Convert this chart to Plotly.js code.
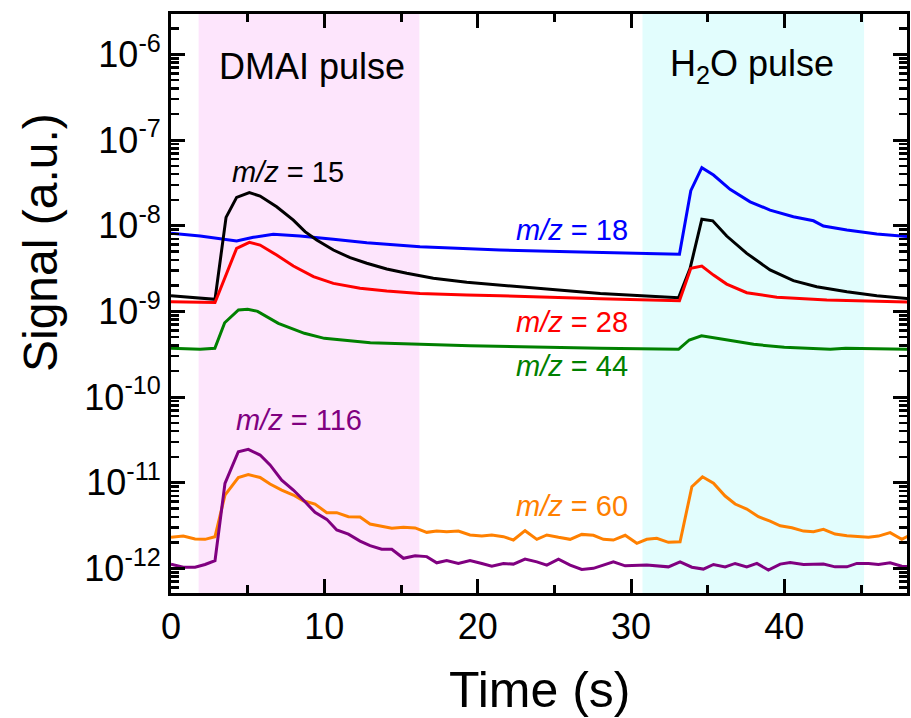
<!DOCTYPE html>
<html>
<head>
<meta charset="utf-8">
<script src="https://cdn.plot.ly/plotly-3.0.1.min.js"></script>
<style>html,body{margin:0;padding:0;background:#fff;}#chart{width:911px;height:718px;}</style>
</head>
<body>
<div id="chart"></div>
<script>
// ---- data ----
const t15 = [0, 2.87, 3.59, 4.28, 5.11, 5.81, 6.89, 7.98, 8.74, 9.5, 10.59, 11.68, 12.77, 14.07, 15.38, 17.11, 19.29, 21.46, 25, 28, 31.9, 33.1, 33.85, 34.62, 35.33, 36.24, 37.55, 39.07, 40.59, 42.11, 44.08, 46.03, 48.2];
const s15 = [1.52e-9, 1.38e-9, 1.25e-8, 2.14e-8, 2.43e-8, 2.22e-8, 1.66e-8, 1.16e-8, 8.51e-9, 6.80e-9, 5.20e-9, 4.23e-9, 3.64e-9, 3.12e-9, 2.78e-9, 2.43e-9, 2.18e-9, 2.03e-9, 1.82e-9, 1.62e-9, 1.48e-9, 1.44e-9, 3.15e-9, 1.19e-8, 1.14e-8, 7.57e-9, 4.75e-9, 3.04e-9, 2.28e-9, 1.94e-9, 1.69e-9, 1.52e-9, 1.40e-9];

const t18 = [0, 1.9, 4.28, 5.37, 6.67, 8.41, 10.59, 12.77, 16.24, 21.46, 26, 31.9, 33.16, 33.9, 34.62, 35.38, 36.46, 37.77, 39.07, 40.59, 41.9, 42.55, 44.08, 46.03, 48.2];
const s18 = [8.15e-9, 7.57e-9, 6.62e-9, 7.31e-9, 7.93e-9, 7.57e-9, 6.93e-9, 6.32e-9, 5.68e-9, 5.20e-9, 4.95e-9, 4.63e-9, 4.63e-9, 2.56e-8, 4.75e-8, 3.90e-8, 2.66e-8, 1.90e-8, 1.52e-8, 1.27e-8, 1.14e-8, 9.91e-9, 8.90e-9, 8.00e-9, 7.43e-9];

const t28 = [0, 2.87, 4.28, 5.11, 5.81, 6.89, 7.98, 9.29, 10.59, 12.33, 14.07, 16.24, 19.29, 21.46, 28, 31.9, 33.16, 33.9, 34.62, 35.38, 36.24, 37.55, 39.51, 42.77, 48.2];
const s28 = [1.29e-9, 1.27e-9, 5.44e-9, 6.39e-9, 5.94e-9, 4.54e-9, 3.38e-9, 2.54e-9, 2.12e-9, 1.86e-9, 1.73e-9, 1.62e-9, 1.55e-9, 1.52e-9, 1.40e-9, 1.36e-9, 1.33e-9, 3.18e-9, 3.38e-9, 2.65e-9, 2.08e-9, 1.65e-9, 1.46e-9, 1.36e-9, 1.28e-9];

const t44 = [0, 1.9, 2.86, 3.5, 4.4, 5.0, 5.65, 7.0, 8.7, 10, 13, 16.2, 19.5, 28, 33.1, 33.8, 34.6, 36, 38, 40, 43, 44, 48];
const s44 = [3.70e-10, 3.62e-10, 3.70e-10, 7.36e-10, 1.04e-9, 1.06e-9, 1.0e-9, 7.25e-10, 5.54e-10, 4.84e-10, 4.30e-10, 4.12e-10, 3.97e-10, 3.70e-10, 3.60e-10, 4.63e-10, 5.19e-10, 4.71e-10, 4.12e-10, 3.80e-10, 3.60e-10, 3.70e-10, 3.60e-10];

const tFirst = [0, 0.80, 1.57, 2.22, 2.87, 3.52, 4.39, 5.04, 5.81, 6.46, 7.22, 7.98, 8.63, 9.39, 10.16, 10.81, 11.57, 12.33, 12.98, 13.74, 14.40, 15.16, 15.92, 16.68, 17.33, 17.98, 18.74, 19.50, 20.27, 20.92, 21.68, 22.33, 23.09, 23.86];

const t116b = [24.51, 25.27, 26.03, 26.79, 27.55, 28.85, 29.62, 31.03, 32.44, 33.20, 33.97, 34.72, 35.38, 36.14, 36.79, 37.55, 38.21, 38.96, 39.73, 40.38, 41.25, 41.90, 42.55, 43.31, 44.08, 44.73, 45.49, 46.14, 46.9, 47.66, 48.2];
const s116a = [1.12e-12, 1.03e-12, 1.03e-12, 1.11e-12, 1.23e-12, 9.83e-12, 2.30e-11, 2.45e-11, 2.10e-11, 1.61e-11, 1.07e-11, 8.20e-12, 6.27e-12, 4.51e-12, 3.73e-12, 2.80e-12, 2.51e-12, 2.08e-12, 1.84e-12, 1.67e-12, 1.67e-12, 1.31e-12, 1.40e-12, 1.37e-12, 1.16e-12, 1.23e-12, 1.14e-12, 1.23e-12, 1.14e-12, 1.06e-12, 1.14e-12, 1.12e-12, 1.28e-12, 1.19e-12];
const s116b = [1.09e-12, 1.28e-12, 1.09e-12, 0.97e-12, 1.0e-12, 1.19e-12, 1.07e-12, 1.09e-12, 1.04e-12, 1.19e-12, 1.03e-12, 0.98e-12, 1.11e-12, 1.04e-12, 1.14e-12, 1.04e-12, 1.14e-12, 0.955e-12, 1.12e-12, 1.17e-12, 1.11e-12, 1.12e-12, 1.12e-12, 1.04e-12, 1.04e-12, 1.14e-12, 1.14e-12, 1.11e-12, 1.16e-12, 1.06e-12, 1.04e-12];

const t60b = [24.51, 25.27, 26.03, 26.79, 27.55, 28.2, 28.85, 29.62, 30.38, 31.03, 31.68, 32.44, 33.20, 33.97, 34.66, 35.38, 36.14, 36.79, 37.55, 38.31, 39.07, 39.73, 40.49, 41.25, 41.90, 42.55, 43.31, 44.08, 44.73, 45.49, 46.14, 46.9, 47.66, 48.2];
const s60a = [2.30e-12, 2.38e-12, 2.20e-12, 2.18e-12, 2.34e-12, 7.17e-12, 1.15e-11, 1.24e-11, 1.15e-11, 9.64e-12, 8.20e-12, 7.17e-12, 6.15e-12, 5.63e-12, 4.46e-12, 4.46e-12, 4.00e-12, 3.97e-12, 3.29e-12, 3.06e-12, 2.93e-12, 3.01e-12, 2.96e-12, 2.63e-12, 2.72e-12, 2.68e-12, 2.72e-12, 2.45e-12, 2.38e-12, 2.45e-12, 2.34e-12, 2.14e-12, 2.75e-12, 2.18e-12];
const s60b = [2.45e-12, 2.30e-12, 2.18e-12, 2.49e-12, 2.43e-12, 2.18e-12, 2.14e-12, 2.43e-12, 1.96e-12, 2.18e-12, 2.24e-12, 2.01e-12, 2.04e-12, 8.97e-12, 1.17e-11, 9.83e-12, 6.98e-12, 5.63e-12, 4.92e-12, 4.00e-12, 3.56e-12, 3.14e-12, 2.98e-12, 2.72e-12, 2.68e-12, 2.85e-12, 2.51e-12, 2.40e-12, 2.34e-12, 2.30e-12, 2.38e-12, 2.61e-12, 2.18e-12, 2.45e-12];

const yTickVals = [1e-12, 1e-11, 1e-10, 1e-9, 1e-8, 1e-7, 1e-6];
const yTickText = ['10<sup>-12</sup>', '10<sup>-11</sup>', '10<sup>-10</sup>', '10<sup>-9</sup>', '10<sup>-8</sup>', '10<sup>-7</sup>', '10<sup>-6</sup>'];
const xTickVals = [0, 10, 20, 30, 40];
const xMinorVals = [5, 15, 25, 35, 45];
const pulseDMAI = [1.8, 16.2];
const pulseH2O = [30.75, 45.2];

// minor tick positions on the log axis (2..9 within each decade)
const yMinorVals = [];
for (let e = -13; e <= -6; e++) for (let m = 2; m <= 9; m++) yMinorVals.push(m * Math.pow(10, e));

// ---- plot ----
const FONT = 'Liberation Sans, Arial, Helvetica, sans-serif';
function line(x, y, color) {
  return {x: x, y: y, type: 'scatter', mode: 'lines', line: {color: color, width: 3}, hoverinfo: 'skip', showlegend: false};
}
const traces = [
  line(t18, s18, '#0000ff'),
  line(t15, s15, '#000000'),
  line(t28, s28, '#ff0000'),
  line(t44, s44, '#008000'),
  line(tFirst.concat(t60b), s60a.concat(s60b), '#ff8000'),
  line(tFirst.concat(t116b), s116a.concat(s116b), '#800080')
];

function lab(text, x, y, color, size) {
  return {text: text, x: x, y: y, xref: 'x', yref: 'y', showarrow: false,
          font: {family: FONT, size: size, color: color}, xanchor: 'center', yanchor: 'middle'};
}
const mz = (n) => '<i>m/z</i> = ' + n;

const layout = {
  width: 911, height: 718,
  margin: {l: 171, r: 4, t: 14, b: 125},
  paper_bgcolor: '#ffffff', plot_bgcolor: '#ffffff',
  font: {family: FONT, color: '#000'},
  xaxis: {
    range: [0, 48], showgrid: false, zeroline: false,
    showline: true, linewidth: 3, linecolor: '#000', mirror: 'allticks',
    ticks: 'inside', ticklen: 14, tickwidth: 3, tickcolor: '#000',
    tickvals: xTickVals, tickfont: {family: FONT, size: 36, color: '#000'},
    minor: {tickvals: xMinorVals, ticks: 'inside', ticklen: 8, tickwidth: 3, tickcolor: '#000', showgrid: false}
  },
  yaxis: {
    type: 'log', range: [-12.288, -5.529], showgrid: false, zeroline: false,
    showline: true, linewidth: 3, linecolor: '#000', mirror: 'allticks',
    ticks: 'inside', ticklen: 14, tickwidth: 3, tickcolor: '#000',
    tickvals: yTickVals, ticktext: yTickText,
    tickfont: {family: FONT, size: 36, color: '#000'},
    minor: {tickvals: yMinorVals, ticks: 'inside', ticklen: 8, tickwidth: 2.5, tickcolor: '#000', showgrid: false}
  },
  shapes: [
    {type: 'rect', xref: 'x', yref: 'paper', x0: pulseDMAI[0], x1: pulseDMAI[1], y0: 0, y1: 1, fillcolor: '#fde5fc', line: {width: 0}, layer: 'below'},
    {type: 'rect', xref: 'x', yref: 'paper', x0: pulseH2O[0], x1: pulseH2O[1], y0: 0, y1: 1, fillcolor: '#e2fdfd', line: {width: 0}, layer: 'below'}
  ],
  annotations: [
    lab('DMAI pulse', 9.18, -6.136, '#000', 36),
    lab('H<sub>2</sub>O pulse', 37.9, -6.136, '#000', 36),
    lab(mz(15), 7.66, -7.373, '#000', 29),
    lab(mz(18), 26.16, -8.051, '#0000ff', 29),
    lab(mz(28), 26.16, -9.125, '#ff0000', 29),
    lab(mz(44), 26.16, -9.638, '#008000', 29),
    lab(mz(116), 8.32, -10.269, '#800080', 29),
    lab(mz(60), 26.16, -11.273, '#ff8000', 29),
    {text: 'Signal (a.u.)', xref: 'paper', yref: 'paper', x: (40 - 171) / 736, y: (593 - 243) / 579, textangle: -90,
     showarrow: false, font: {family: FONT, size: 48, color: '#000'}, xanchor: 'center', yanchor: 'middle'},
    {text: 'Time (s)', xref: 'paper', yref: 'paper', x: 0.5, y: (593 - 690) / 579, showarrow: false,
     font: {family: FONT, size: 50, color: '#000'}, xanchor: 'center', yanchor: 'middle'}
  ]
};
Plotly.newPlot('chart', traces, layout, {staticPlot: true, displayModeBar: false});
</script>
</body>
</html>
